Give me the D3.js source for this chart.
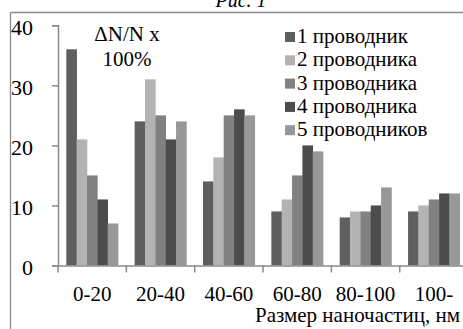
<!DOCTYPE html>
<html><head><meta charset="utf-8">
<script src="https://cdn.jsdelivr.net/npm/d3@7"></script>
<style>html,body{margin:0;padding:0;background:#fff}</style>
</head><body>
<svg id="chart" width="463" height="329" style="font-family:'Liberation Serif'"></svg>
<script>
const categories = ["0-20","20-40","40-60","60-80","80-100","100-"];
const seriesNames = ["1 проводник","2 проводника","3 проводника","4 проводника","5 проводников"];
const s1 = [36,24,14,9,8,9];
const s2 = [21,31,18,11,9,10];
const s3 = [15,25,25,15,9,11];
const s4 = [11,21,26,20,10,12];
const s5 = [7,24,25,19,13,12];
const yTicks = [0,10,20,30,40];
const colors = ["#5f5f5f","#b3b3b3","#818181","#4c4c4c","#989898"];
const series = [s1,s2,s3,s4,s5];

const svg = d3.select("#chart");
const axisColor = "#8a8a8a";
function txt(sel, size){ return sel.style("font-family",'"Liberation Serif"').style("font-size",size+"px"); }

svg.append("line").attr("x1",10.5).attr("x2",463).attr("y1",12.5).attr("y2",12.5).attr("stroke",axisColor).attr("stroke-width",1.3);
svg.append("line").attr("x1",10.5).attr("x2",10.5).attr("y1",12.5).attr("y2",329).attr("stroke",axisColor).attr("stroke-width",1.3);
txt(svg.append("text").attr("x",241).attr("y",7).attr("text-anchor","middle").style("font-style","italic"),20).text("Рис. 1");

const x0 = d3.scaleBand().domain(categories).range([58, 58+6*68.35]);
const x1 = d3.scaleBand().domain(d3.range(5)).range([8.3, 68.35-8.3]);
const y = d3.scaleLinear().domain([0,40]).range([265.5, 25.3]);

const bars = svg.append("g");
series.forEach((s,si)=>{
  bars.selectAll(null).data(s).enter().append("rect")
    .attr("x",(d,ci)=>x0(categories[ci])+x1(si)).attr("width",x1.bandwidth()+0.3)
    .attr("y",d=>y(d)).attr("height",d=>y(0)-y(d)).attr("fill",colors[si]);
});

const ya = svg.append("g").attr("transform","translate(58,0)")
  .call(d3.axisLeft(y).tickValues(yTicks).tickSize(6).tickPadding(19));
ya.select(".domain").attr("stroke",axisColor).attr("stroke-width",1.5);
ya.selectAll(".tick line").attr("stroke",axisColor).attr("stroke-width",1.5);
txt(ya.selectAll(".tick text"),22).attr("fill","#000").attr("dy","0.42em");

const xa = svg.append("g").attr("transform","translate(0,265.5)")
  .call(d3.axisBottom(x0).tickSize(0).tickPadding(0));
xa.select(".domain").attr("stroke",axisColor).attr("stroke-width",1.5);
txt(xa.selectAll(".tick text"),21).attr("fill","#000").attr("dy",0).attr("y",35);
xa.selectAll(".bnd").data(d3.range(7)).enter().append("line")
  .attr("x1",i=>x0.range()[0]+i*x0.step()).attr("x2",i=>x0.range()[0]+i*x0.step())
  .attr("y1",0).attr("y2",7).attr("stroke",axisColor).attr("stroke-width",1.5);

txt(svg.append("text").attr("x",460).attr("y",322).attr("text-anchor","end"),21).text("Размер наночастиц, нм");
txt(svg.append("text").attr("x",127).attr("y",41).attr("text-anchor","middle"),21).text("ΔN/N x");
txt(svg.append("text").attr("x",127).attr("y",66).attr("text-anchor","middle"),21).text("100%");

const lg = svg.append("g");
seriesNames.forEach((n,i)=>{
  const by = 43 + i*23.3;
  lg.append("rect").attr("x",285).attr("y",by-11).attr("width",10).attr("height",10).attr("fill",colors[i]);
  txt(lg.append("text").attr("x",297).attr("y",by),21).text(n);
});
</script>
</body></html>
